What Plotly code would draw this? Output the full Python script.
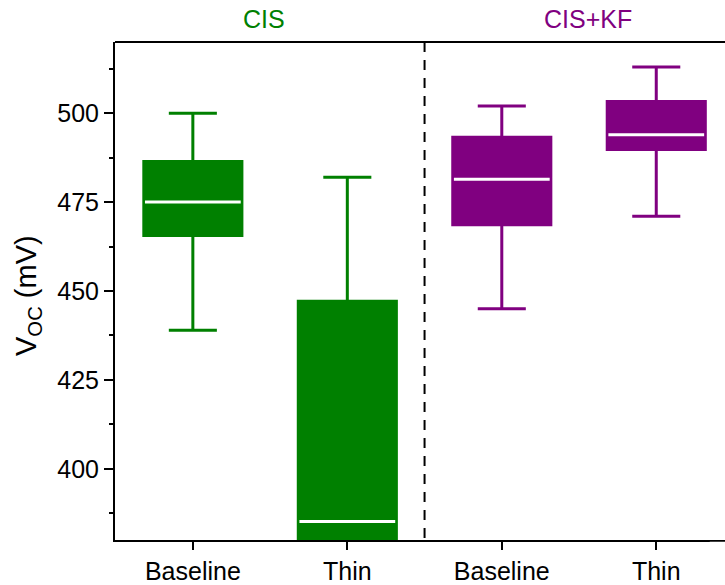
import plotly.graph_objects as go

# Open-circuit voltage summary statistics (mV) per sample group
groups = ["CIS", "CIS+KF"]
categories = ["Baseline", "Thin", "Baseline", "Thin"]
positions = [0, 1, 2, 3]

cis_lower = [439.0, 360.0]
cis_q1 = [465.6, 372.0]
cis_median = [475.0, 385.2]
cis_q3 = [486.4, 447.1]
cis_upper = [500.0, 482.0]

kf_lower = [445.0, 471.0]
kf_q1 = [468.6, 489.8]
kf_median = [481.4, 493.9]
kf_q3 = [493.2, 503.3]
kf_upper = [502.0, 513.0]

y_ticks = [400, 425, 450, 475, 500]
y_minor = [387.5, 412.5, 437.5, 462.5, 487.5, 512.5]

GREEN = "#008000"
PURPLE = "#800080"
FONT = "Liberation Sans, Arial, sans-serif"
BOX_W = 0.635
HALF_MED = 0.31

fig = go.Figure()


def add_group(xs, lo, q1, med, q3, hi, color):
    fig.add_trace(go.Box(
        x=xs, lowerfence=lo, q1=q1, median=med, q3=q3, upperfence=hi,
        width=BOX_W, whiskerwidth=0.49,
        fillcolor=color, line=dict(color=color, width=3),
        boxpoints=False, showlegend=False, hoverinfo="skip",
    ))
    # white median bars
    mx, my = [], []
    for x, m in zip(xs, med):
        mx += [x - HALF_MED, x + HALF_MED, None]
        my += [m, m, None]
    fig.add_trace(go.Scatter(
        x=mx, y=my, mode="lines", line=dict(color="white", width=3),
        showlegend=False, hoverinfo="skip",
    ))


add_group(positions[:2], cis_lower, cis_q1, cis_median, cis_q3, cis_upper, GREEN)
add_group(positions[2:], kf_lower, kf_q1, kf_median, kf_q3, kf_upper, PURPLE)

# group separator
fig.add_shape(type="line", xref="x", yref="paper", x0=1.5, x1=1.5, y0=1, y1=0,
              line=dict(color="black", width=2, dash="10px,8px"))
# top frame line
fig.add_shape(type="line", xref="paper", yref="paper", x0=0, x1=1, y0=1, y1=1,
              line=dict(color="black", width=2))
# keep the open right-hand corner below the axis clean
fig.add_shape(type="rect", xref="paper", yref="paper", x0=0.975, x1=1.01,
              y0=-0.04, y1=-0.0035, layer="above",
              fillcolor="white", line=dict(width=0))

# group labels above the plot
for label, xc, color in [(groups[0], 0.46, GREEN), (groups[1], 2.56, PURPLE)]:
    fig.add_annotation(text=label, x=xc, xref="x", y=1.046, yref="paper",
                       xanchor="center", yanchor="middle", showarrow=False,
                       font=dict(family=FONT, size=25, color=color))

# y-axis title
fig.add_annotation(text="V<sub>OC</sub> (mV)", xref="paper", yref="paper",
                   x=-0.1426, y=0.49, xanchor="center", yanchor="middle",
                   textangle=-90, showarrow=False,
                   font=dict(family=FONT, size=29, color="black"))

fig.update_layout(
    width=725, height=585,
    margin=dict(l=115, r=0, t=42, b=43),
    paper_bgcolor="white", plot_bgcolor="white",
    font=dict(family=FONT, size=25, color="black"),
    xaxis=dict(
        range=[-0.504, 3.445], tickmode="array", tickvals=positions,
        ticktext=categories, showline=True, linecolor="black", linewidth=2,
        mirror=False, ticks="outside", ticklen=8, tickwidth=2,
        tickcolor="black", showgrid=False, zeroline=False,
    ),
    yaxis=dict(
        range=[380, 520], tickmode="array", tickvals=y_ticks,
        showline=True, linecolor="black", linewidth=2, mirror=False,
        ticks="outside", ticklen=9, tickwidth=2, tickcolor="black",
        showgrid=False, zeroline=False,
        minor=dict(tickmode="array", tickvals=y_minor, ticks="outside",
                   ticklen=4, tickwidth=2, tickcolor="black", showgrid=False),
    ),
)

fig.write_html("out.html", config={"displayModeBar": False})
